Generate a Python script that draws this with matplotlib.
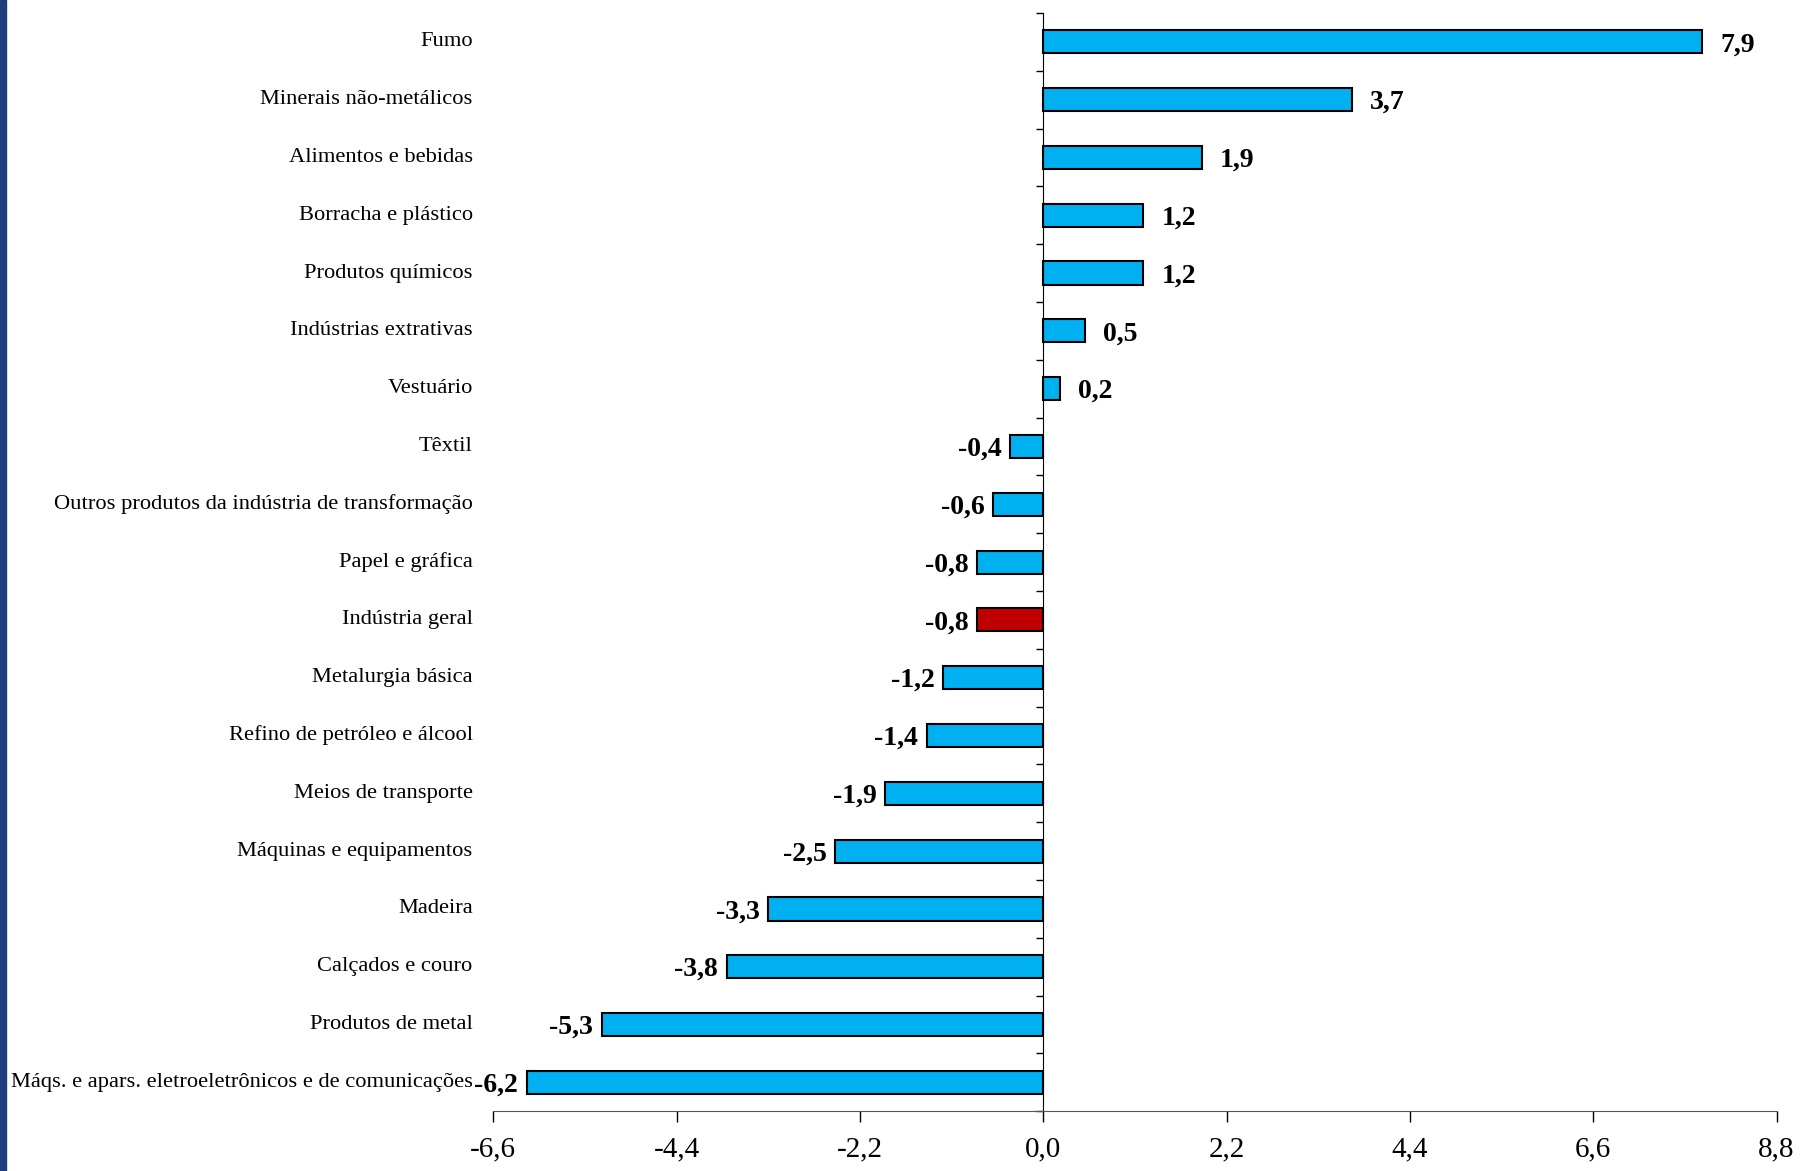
import matplotlib
matplotlib.use("Agg")
import matplotlib.pyplot as plt
from matplotlib.transforms import blended_transform_factory
import numpy as np

categories = ["Fumo","Minerais não-metálicos","Alimentos e bebidas","Borracha e plástico",
              "Produtos químicos","Indústrias extrativas","Vestuário","Têxtil",
              "Outros produtos da indústria de transformação","Papel e gráfica","Indústria geral",
              "Metalurgia básica","Refino de petróleo e álcool","Meios de transporte",
              "Máquinas e equipamentos","Madeira","Calçados e couro","Produtos de metal",
              "Máqs. e apars. eletroeletrônicos e de comunicações"]
values = [7.9,3.7,1.9,1.2,1.2,0.5,0.2,-0.4,-0.6,-0.8,-0.8,-1.2,-1.4,-1.9,-2.5,-3.3,-3.8,-5.3,-6.2]
highlight = "Indústria geral"
xticks = [-6.6,-4.4,-2.2,0.0,2.2,4.4,6.6,8.8]

plt.rcParams['font.family'] = ['Liberation Serif', 'DejaVu Serif']
fig = plt.figure(figsize=(18, 11.71), dpi=100)
ax = fig.add_axes([0.274, 0.051, 0.713, 0.938])
n = len(categories)
y = np.arange(n)[::-1]
colors = ['#c00000' if c == highlight else '#00b0f0' for c in categories]
ax.barh(y, values, height=0.4, color=colors, edgecolor='black', linewidth=1.5)
ax.set_xlim(-6.6, 8.8)
ax.set_ylim(-0.5, n - 0.5)
ax.set_xticks(xticks)
ax.set_xticklabels([f"{t:.1f}".replace('.', ',') for t in xticks], fontsize=21)
ax.tick_params(axis='x', direction='out', length=8, width=1, pad=10)
for s in ['top', 'right']:
    ax.spines[s].set_visible(False)
ax.spines['left'].set_position(('data', 0))
ax.set_yticks([])
ax.set_yticks(np.arange(n + 1) - 0.5, minor=True)
ax.tick_params(axis='y', which='minor', direction='out', length=5, width=1)
ax.spines['bottom'].set_color('#555555')
tr = blended_transform_factory(ax.transAxes, ax.transData)
for yi, c, v in zip(y, categories, values):
    ax.text(-0.016, yi, c, transform=tr, ha='right', va='center', fontsize=16.2)
    lab = f"{v:.1f}".replace('.', ',')
    if v >= 0:
        ax.text(v + 0.22, yi - 0.05, lab, ha='left', va='center', fontsize=20, fontweight='bold')
    else:
        ax.text(v - 0.1, yi - 0.05, lab, ha='right', va='center', fontsize=20, fontweight='bold')
fig.add_artist(plt.Rectangle((0, 0), 0.0035, 1, transform=fig.transFigure, color='#1f3d7a'))
fig.savefig("out.png", dpi=100)
